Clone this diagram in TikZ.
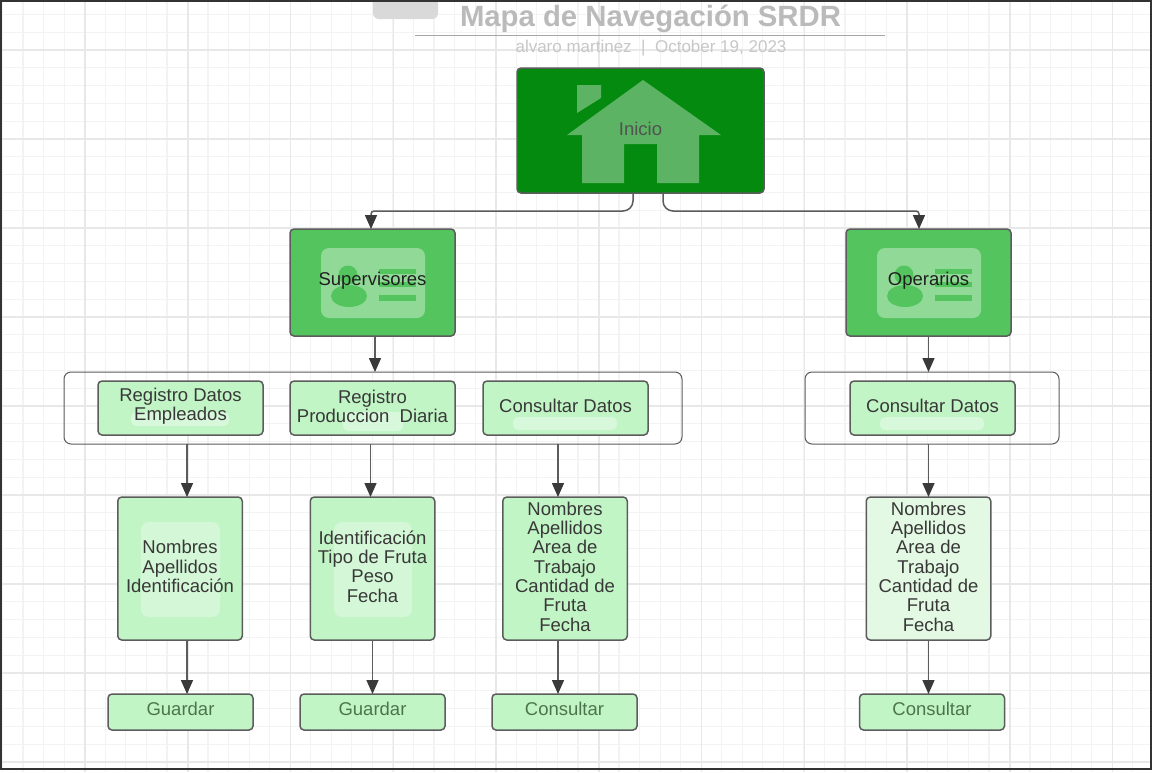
\documentclass[tikz,border=0pt]{standalone}
\usepackage{fontspec}
\setmainfont{Liberation Sans}
\usetikzlibrary{arrows.meta}
\definecolor{gridline}{HTML}{F3F3F3}
\definecolor{gridmajor}{HTML}{E8E8E8}
\definecolor{darkgreen}{HTML}{048A0F}
\definecolor{midgreen}{HTML}{54C45E}
\definecolor{lightgreen}{HTML}{C2F5C6}
\definecolor{palegreen}{HTML}{E3F9E3}
\definecolor{wire}{HTML}{5C5C5C}
\definecolor{tipgray}{HTML}{3A3A3A}
\newcommand{\houseicon}{%
  \fill[white!35!darkgreen]
    (2.5,-50.5) -- (80.5,4.5) -- (58.5,4.5) -- (58.5,52.5) -- (16.5,52.5) -- (16.5,13.5)
    -- (-16.5,13.5) -- (-16.5,52.5) -- (-58.5,52.5) -- (-58.5,4.5) -- (-73.5,4.5) -- cycle
    (-63.5,-45.5) -- (-39.5,-45.5) -- (-39.5,-32.5) -- (-63.5,-17.5) -- cycle;}
\newcommand{\cardicon}{%
  \fill[white!35!midgreen,rounded corners=8pt] (-51.5,-34.5) rectangle (52.5,35.5);
  \fill[midgreen] (-24.5,-7.5) circle [radius=9.5];
  \fill[midgreen] (-23.5,13.5) ellipse [x radius=18, y radius=11];
  \fill[midgreen] (6.5,-13.5) rectangle (43.5,-8.5);
  \fill[midgreen] (6.5,-0.5) rectangle (43.5,4.5);
  \fill[midgreen] (6.5,12.5) rectangle (43.5,18);}
\begin{document}
\begin{tikzpicture}[x=1pt,y=-1pt]
  \tikzstyle{panel}=[draw=wire,line width=1.5pt,rounded corners=4pt,inner sep=0pt,outer sep=0pt]
  \tikzstyle{hub}=[panel,fill=midgreen,minimum width=165pt,minimum height=107pt]
  \tikzstyle{menubox}=[panel,fill=lightgreen,minimum width=165pt,minimum height=54pt]
  \tikzstyle{detail}=[panel,fill=lightgreen,minimum width=124.5pt,minimum height=143pt]
  \tikzstyle{action}=[panel,fill=lightgreen,minimum width=145pt,minimum height=36pt]
  \tikzstyle{group}=[draw=wire,line width=1pt,rounded corners=7pt,inner sep=0pt,outer sep=0pt,minimum height=72pt]
  \tikzstyle{edge}=[draw=wire,line width=1.5pt,-{Triangle[length=14pt,width=12pt,fill=tipgray,color=tipgray]}]
  \tikzstyle{caption}=[inner sep=0pt,align=center,yshift=2pt,text=black!78,font=\fontsize{18.5}{19.3}\selectfont]
  \tikzstyle{formcard}=[fill=white!30!lightgreen,rounded corners=8pt]
  \tikzstyle{patch}=[fill=white!35!lightgreen,rounded corners=5pt]

  \path[use as bounding box] (0,0) rectangle (1152,772);
  \fill[white] (0,0) rectangle (1152,772);
  % background grid
  \foreach \i in {0,...,55} \draw[gridline,line width=1.2pt] ({2.5+20.55*\i},0) -- ({2.5+20.55*\i},772);
  \foreach \i in {0,...,43} \draw[gridline,line width=1.2pt] (0,{-3.5+17.8*\i}) -- (1152,{-3.5+17.8*\i});
  \foreach \i in {0,...,10} \draw[gridmajor,line width=1.5pt] ({85+102.75*\i},0) -- ({85+102.75*\i},772);
  \foreach \i in {0,...,8} \draw[gridmajor,line width=1.5pt] (0,{50+89*\i}) -- (1152,{50+89*\i});

  \fill[black!15,rounded corners=6pt] (373,-10) rectangle (438,19);
  \node [font=\fontsize{29.3}{30}\selectfont\bfseries,text=black!27,inner sep=0pt] (title) at (650.5,19) {Mapa de Navegación SRDR};
  \coordinate (ruleL) at (415,35);
  \coordinate (ruleR) at (885,35);
  \draw[black!35,line width=1pt] (ruleL) -- (ruleR);
  \node [font=\fontsize{17}{18}\selectfont,text=black!22,inner sep=0pt] (author) at (651,48) {alvaro martinez~~|~~October 19, 2023};

  \node [group,minimum width=618pt] (grpsup) at (373,408) {};
  \node [group,minimum width=254pt] (grpope) at (932,408) {};

  \node [hub,fill=darkgreen,minimum width=247pt,minimum height=125pt] (inicio) at (640.5,130.5) {};
  \node [hub] (sup) at (372.5,282.5) {};
  \node [hub] (ope) at (928.5,282.5) {};

  \node [menubox] (regemp) at (180.5,408) {};
  \node [menubox] (regprod) at (372.5,408) {};
  \node [menubox] (consup) at (565.5,408) {};
  \node [menubox] (conope) at (932.5,408) {};

  \node [detail] (detemp) at (180,568.5) {};
  \node [detail] (detprod) at (372.5,568.5) {};
  \node [detail] (detsup) at (565,568.5) {};
  \node [detail,fill=palegreen] (detope) at (928.5,568.5) {};

  \node [action] (guaemp) at (180.5,712) {};
  \node [action] (guaprod) at (372.5,712) {};
  \node [action] (consact) at (564.5,712) {};
  \node [action] (opeact) at (932,712) {};

  % faint icons behind the texts
  \begin{scope}[shift={(inicio)}] \houseicon \end{scope}
  \begin{scope}[shift={(sup)}] \cardicon \end{scope}
  \begin{scope}[shift={(ope)}] \cardicon \end{scope}
  \fill[formcard] (141,522) rectangle (220,617);
  \fill[formcard] (334,522) rectangle (412,617);
  \fill[patch] (131,412) rectangle (229,426);
  \fill[patch] (343,412) rectangle (403,431);
  \fill[patch] (513,417) rectangle (617,430);
  \fill[patch] (880,417) rectangle (984,430);

  \node [caption,text=black!68] (inicioT) at (inicio) {Inicio};
  \node [caption,text=black!88] (supT) at (sup) {Supervisores};
  \node [caption,text=black!88] (opeT) at (ope) {Operarios};
  \node [caption,yshift=-0.5pt] (regempT) at (regemp) {Registro Datos\\Empleados};
  \node [caption,yshift=-0.5pt] (regprodT) at (regprod) {Registro\\Produccion~~Diaria};
  \node [caption] (consupT) at (consup) {Consultar Datos};
  \node [caption] (conopeT) at (conope) {Consultar Datos};
  \node [caption] (detempT) at (detemp) {Nombres\\Apellidos\\Identificación};
  \node [caption] (detprodT) at (detprod) {Identificación\\Tipo de Fruta\\Peso\\Fecha};
  \node [caption] (detsupT) at (detsup) {Nombres\\Apellidos\\Area de\\Trabajo\\Cantidad de\\Fruta\\Fecha};
  \node [caption] (detopeT) at (detope) {Nombres\\Apellidos\\Area de\\Trabajo\\Cantidad de\\Fruta\\Fecha};
  \node [caption,yshift=1pt,text=black!60!green!40!gray] (guaempT) at (guaemp) {Guardar};
  \node [caption,yshift=1pt,text=black!60!green!40!gray] (guaprodT) at (guaprod) {Guardar};
  \node [caption,yshift=1pt,text=black!60!green!40!gray] (consactT) at (consact) {Consultar};
  \node [caption,yshift=1pt,text=black!60!green!40!gray] (opeactT) at (opeact) {Consultar};

  \coordinate (bus) at (640,211);
  \path[edge] ([xshift=-7.5pt]inicio.south) [rounded corners=10pt] -- ([xshift=-7.5pt]inicio.south |- bus) [rounded corners=3pt] -- ([xshift=-1.5pt]sup.north |- bus) -- ([xshift=-1.5pt]sup.north);
  \path[edge] ([xshift=22.5pt]inicio.south) [rounded corners=10pt] -- ([xshift=22.5pt]inicio.south |- bus) [rounded corners=3pt] -- ([xshift=-9.5pt]ope.north |- bus) -- ([xshift=-9.5pt]ope.north);

  \path[edge] ([xshift=2.5pt]sup.south) -- ([xshift=2.5pt]sup.south |- grpsup.north);
  \path[edge] (ope.south) -- (ope.south |- grpope.north);

  \path[edge] ([xshift=7pt]detemp.north |- grpsup.south) -- ([xshift=7pt]detemp.north);
  \path[edge] ([xshift=-2pt]detprod.north |- grpsup.south) -- ([xshift=-2pt]detprod.north);
  \path[edge] ([xshift=-7pt]detsup.north |- grpsup.south) -- ([xshift=-7pt]detsup.north);
  \path[edge] (detope.north |- grpope.south) -- (detope.north);

  \path[edge] ([xshift=7pt]detemp.south) -- ([xshift=7pt]detemp.south |- guaemp.north);
  \path[edge] (detprod.south) -- (detprod.south |- guaprod.north);
  \path[edge] ([xshift=-7pt]detsup.south) -- ([xshift=-7pt]detsup.south |- consact.north);
  \path[edge] (detope.south) -- (detope.south |- opeact.north);

  \draw[black!80,line width=2pt] (1,1) rectangle (1151,769);
\end{tikzpicture}
\end{document}
